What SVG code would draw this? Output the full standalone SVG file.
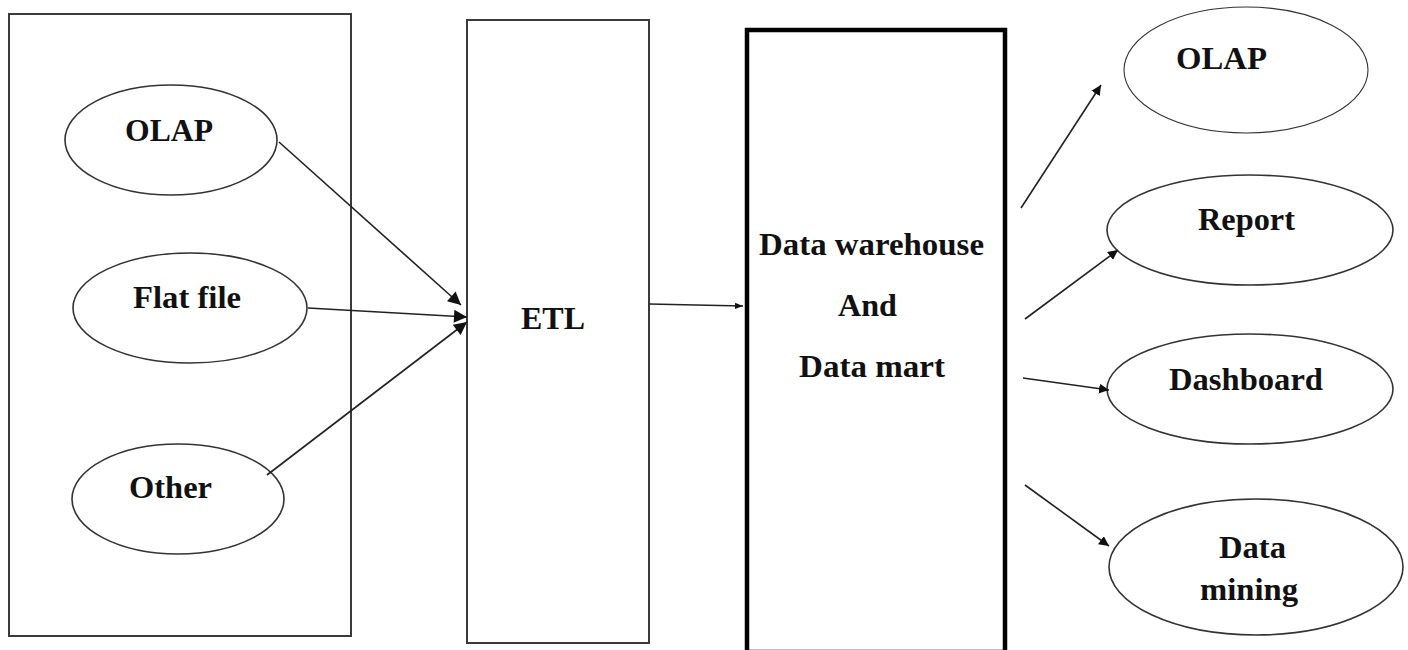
<svg xmlns="http://www.w3.org/2000/svg" width="1408" height="650" viewBox="0 0 1408 650">
<style>
.box{fill:none;stroke:#3a3a3a;stroke-width:2}
.thick{fill:none;stroke:#000;stroke-width:4.5}
.ell{fill:#fff;stroke:#333;stroke-width:1.6}
.ellthin{fill:#fff;stroke:#333;stroke-width:1.1}
.lbl{font-family:"Liberation Serif","Times New Roman",serif;font-weight:bold;font-size:31px;fill:#111;text-anchor:start}
.conn{stroke:#222;stroke-width:1.6;fill:none}
</style>
<defs>
<marker id="ah" viewBox="0 0 10 10" refX="10" refY="5" markerWidth="10" markerHeight="10" markerUnits="userSpaceOnUse" orient="auto">
<path d="M0,0 L10,5 L0,10 z" fill="#111"/>
</marker>
<marker id="ahs" viewBox="0 0 10 10" refX="10" refY="5" markerWidth="8" markerHeight="8" markerUnits="userSpaceOnUse" orient="auto">
<path d="M0,1 L10,5 L0,9 z" fill="#111"/>
</marker>
<marker id="ahl" viewBox="0 0 10 10" refX="10" refY="5" markerWidth="15" markerHeight="13" markerUnits="userSpaceOnUse" orient="auto">
<path d="M0,0 L10,5 L0,10 z" fill="#111"/>
</marker>
</defs>
<rect width="1408" height="650" fill="#fff"/>

<g id="sources">
<rect class="box" x="9" y="14" width="342" height="622"/>
</g>
<g id="src-olap">
<ellipse class="ell" cx="171" cy="140" rx="106" ry="55"/>
<text class="lbl" x="125" y="141" textLength="88" lengthAdjust="spacingAndGlyphs">OLAP</text>
</g>
<g id="src-flatfile">
<ellipse class="ell" cx="190" cy="308" rx="117" ry="55"/>
<text class="lbl" x="133" y="308" textLength="108" lengthAdjust="spacingAndGlyphs">Flat file</text>
</g>
<g id="src-other">
<ellipse class="ell" cx="178" cy="499" rx="106" ry="55"/>
<text class="lbl" x="129" y="498" textLength="83" lengthAdjust="spacingAndGlyphs">Other</text>
</g>

<g id="etl">
<rect class="box" x="467" y="20" width="182" height="623"/>
<text class="lbl" x="521" y="329" textLength="64" lengthAdjust="spacingAndGlyphs">ETL</text>
</g>

<g id="dw">
<rect class="thick" x="747" y="30" width="258" height="622"/>
<text class="lbl" x="759" y="255" textLength="225" lengthAdjust="spacingAndGlyphs">Data warehouse</text>
<text class="lbl" x="838" y="316" textLength="59" lengthAdjust="spacingAndGlyphs">And</text>
<text class="lbl" x="799" y="377" textLength="146" lengthAdjust="spacingAndGlyphs">Data mart</text>
</g>

<g id="out-olap">
<ellipse class="ellthin" cx="1246" cy="70" rx="122" ry="63"/>
<text class="lbl" x="1176" y="69" textLength="91" lengthAdjust="spacingAndGlyphs">OLAP</text>
</g>
<g id="out-report">
<ellipse class="ell" cx="1250" cy="230" rx="143" ry="55"/>
<text class="lbl" x="1198" y="230" textLength="97" lengthAdjust="spacingAndGlyphs">Report</text>
</g>
<g id="out-dashboard">
<ellipse class="ell" cx="1250" cy="389" rx="143" ry="55"/>
<text class="lbl" x="1169" y="390" textLength="154" lengthAdjust="spacingAndGlyphs">Dashboard</text>
</g>
<g id="out-datamining">
<ellipse class="ell" cx="1256" cy="567" rx="147" ry="68"/>
<text class="lbl" x="1219" y="558" textLength="67" lengthAdjust="spacingAndGlyphs">Data</text>
<text class="lbl" x="1200" y="600" textLength="98" lengthAdjust="spacingAndGlyphs">mining</text>
</g>

<g id="connectors">
<line class="conn" x1="279" y1="142" x2="461" y2="305" marker-end="url(#ahl)"/>
<line class="conn" x1="308" y1="308" x2="467" y2="317" marker-end="url(#ahl)"/>
<line class="conn" x1="267" y1="475" x2="467" y2="322" marker-end="url(#ahl)"/>
<line class="conn" x1="649" y1="304" x2="743" y2="306" marker-end="url(#ahs)"/>
<line class="conn" x1="1021" y1="208" x2="1101" y2="85" marker-end="url(#ah)"/>
<line class="conn" x1="1025" y1="319" x2="1118" y2="250" marker-end="url(#ah)"/>
<line class="conn" x1="1023" y1="378" x2="1109" y2="390" marker-end="url(#ah)"/>
<line class="conn" x1="1025" y1="485" x2="1109" y2="546" marker-end="url(#ah)"/>
</g>
</svg>
